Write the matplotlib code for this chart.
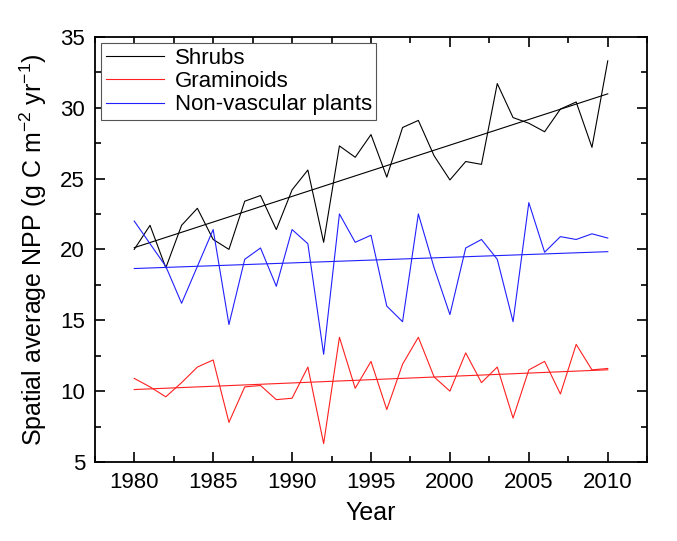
import numpy as np
import matplotlib
matplotlib.use("Agg")
import matplotlib.pyplot as plt
from matplotlib.ticker import MultipleLocator

plt.rcParams["font.family"] = ["Liberation Sans", "DejaVu Sans"]
plt.rcParams["mathtext.fontset"] = "custom"
plt.rcParams["mathtext.rm"] = "Liberation Sans"

years = np.arange(1980, 2011)
shrubs = [20.0, 21.7, 18.7, 21.7, 22.9, 20.7, 20.0, 23.4, 23.8, 21.4, 24.2,
          25.6, 20.5, 27.3, 26.5, 28.1, 25.1, 28.6, 29.1, 26.6, 24.9, 26.2,
          26.0, 31.7, 29.3, 28.9, 28.3, 29.9, 30.4, 27.2, 33.3]
graminoids = [10.9, 10.3, 9.6, 10.6, 11.7, 12.2, 7.8, 10.3, 10.4, 9.4, 9.5,
              11.7, 6.3, 13.8, 10.2, 12.1, 8.7, 11.9, 13.8, 11.0, 10.0, 12.7,
              10.6, 11.7, 8.1, 11.5, 12.1, 9.8, 13.3, 11.5, 11.6]
nonvascular = [22.0, 20.4, 18.8, 16.2, 18.8, 21.4, 14.7, 19.3, 20.1, 17.4, 21.4,
               20.4, 12.6, 22.5, 20.5, 21.0, 16.0, 14.9, 22.5, 18.7, 15.4, 20.1,
               20.7, 19.3, 14.9, 23.3, 19.8, 20.9, 20.7, 21.1, 20.8]

series = [("Shrubs", shrubs, "black"),
          ("Graminoids", graminoids, "#ff2020"),
          ("Non-vascular plants", nonvascular, "#2020ff")]

fig = plt.figure(figsize=(6.77, 5.41), dpi=100)
ax = fig.add_axes([0.140, 0.146, 0.816, 0.786])

for name, vals, col in series:
    ax.plot(years, vals, color=col, lw=0.8, label=name)
    k, b = np.polyfit(years, vals, 1)
    ax.plot(years, k * years + b, color=col, lw=0.8)

ax.set_xlim(1977.5, 2012.5)
ax.set_ylim(5, 35)
ax.xaxis.set_major_locator(MultipleLocator(5))
ax.xaxis.set_minor_locator(MultipleLocator(2.5))
ax.yaxis.set_major_locator(MultipleLocator(5))
ax.yaxis.set_minor_locator(MultipleLocator(2.5))
ax.tick_params(which="both", direction="in", top=True, right=True,
               labelsize=16, pad=7)
ax.tick_params(which="major", length=7, width=1.2)
ax.tick_params(which="minor", length=4, width=1.2)
for s in ax.spines.values():
    s.set_linewidth(1.3)

ax.set_xlabel("Year", fontsize=18, labelpad=6)
ax.set_ylabel("Spatial average NPP (g C m$^{-2}$ yr$^{-1}$)", fontsize=18,
              labelpad=8)

leg = ax.legend(loc="upper left", fontsize=16, fancybox=False, framealpha=1,
                edgecolor="#555555", borderaxespad=0.3, handlelength=2.6,
                borderpad=0.2, labelspacing=0.1, handletextpad=0.5)
leg.get_frame().set_linewidth(0.8)

fig.savefig("out.png", dpi=100)
